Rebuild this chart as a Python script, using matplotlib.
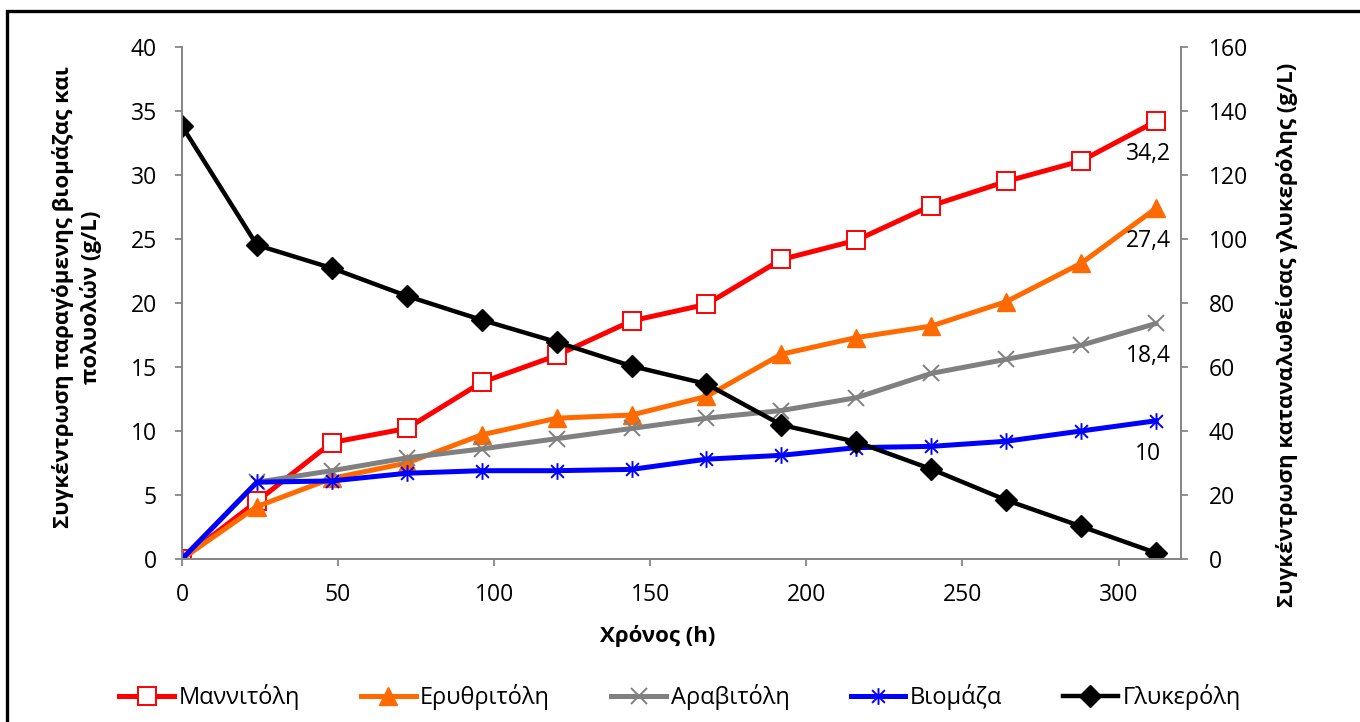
import matplotlib
matplotlib.use("Agg")
import matplotlib.pyplot as plt
from matplotlib.path import Path
from matplotlib.patches import Rectangle

plt.rcParams['font.family'] = ['Open Sans', 'DejaVu Sans']

# sampling times (h)
hours = [0, 24, 48, 72, 96, 120, 144, 168, 192, 216, 240, 264, 288, 312]

# left axis: products (g/L)
mannitol = [0, 4.5, 9.1, 10.2, 13.8, 15.9, 18.6, 19.9, 23.4, 24.9, 27.6, 29.5, 31.1, 34.2]
erythritol = [0, 4.1, 6.3, 7.5, 9.7, 11.0, 11.25, 12.7, 16.0, 17.3, 18.2, 20.1, 23.1, 27.4]
arabitol = [0, 6.0, 6.9, 7.9, 8.6, 9.4, 10.2, 11.0, 11.6, 12.6, 14.5, 15.6, 16.7, 18.4]
biomass = [0, 6.0, 6.1, 6.7, 6.9, 6.9, 7.0, 7.8, 8.1, 8.7, 8.8, 9.2, 10.0, 10.8]

# right axis: glycerol consumed (g/L)
glycerol = [135.3, 98.1, 90.9, 82.2, 74.7, 67.8, 60.3, 54.7, 41.9, 36.6, 28.1, 18.4, 10.2, 1.9]

names = ['Μαννιτόλη', 'Ερυθριτόλη', 'Αραβιτόλη', 'Βιομάζα', 'Γλυκερόλη']
end_labels = ['34,2', '27,4', '18,4', '10']

# excel style star marker: x with a vertical bar
star = Path([(-1, -1), (1, 1), (-1, 1), (1, -1), (0, -1.3), (0, 1.3)],
            [Path.MOVETO, Path.LINETO, Path.MOVETO, Path.LINETO, Path.MOVETO, Path.LINETO])

fig = plt.figure(figsize=(13.6, 7.22), dpi=100)
ax = fig.add_axes([182/1360, 1-559/722, (1181-182)/1360, (559-47)/722])
ax2 = ax.twinx()

ax.plot(hours, mannitol, color='#ff0000', lw=3.6, marker='s', ms=13, mfc='white',
        mec='#ff0000', mew=1.4, label=names[0])
ax.plot(hours, erythritol, color='#ff6a00', lw=3.6, marker='^', ms=13,
        mfc='#ff6a00', mec='#ff6a00', label=names[1])
ax.plot(hours, arabitol, color='#808080', lw=3.6, marker='x', ms=12, mew=1.4,
        mec='#808080', label=names[2])
ax.plot(hours, biomass, color='#0000ff', lw=3.6, marker=star, ms=12, mew=1.4,
        mec='#0000ff', label=names[3])
ax2.plot(hours, glycerol, color='black', lw=3.2, marker='D', ms=11, label=names[4])

for series, lab in zip([mannitol, erythritol, arabitol, biomass], end_labels):
    ax.annotate(lab, (hours[-1], series[-1]), xytext=(-8, -33), textcoords='offset pixels',
                ha='center', va='center', fontsize=16.5)

ax.set_xlim(0, 320)
ax.set_ylim(0, 40)
ax2.set_ylim(0, 160)
ax.set_xticks(range(0, 301, 50))
ax.set_yticks(range(0, 41, 5))
ax2.set_yticks(range(0, 161, 20))

gray = '#868686'
for a in (ax, ax2):
    a.spines['top'].set_visible(False)
    for s in ('left', 'right', 'bottom'):
        a.spines[s].set_color(gray)
        a.spines[s].set_linewidth(1.3)
    a.tick_params(colors=gray, labelcolor='black', labelsize=16.5, length=5, width=1.3)
ax.tick_params(axis='x', pad=12)
ax.tick_params(axis='y', pad=13)
ax2.tick_params(axis='y', pad=15)

fig.text(658/1360, 1-636/722, 'Χρόνος (h)', ha='center', va='center',
         fontsize=16, fontweight='bold')
fig.text(77/1360, 1-297/722, 'Συγκέντρωση παραγόμενης βιομάζας και\nπολυολών (g/L)',
         rotation=90, ha='center', va='center', fontsize=16, fontweight='bold',
         multialignment='center', linespacing=1.35)
fig.text(1287/1360, 1-335/722, 'Συγκέντρωση καταναλωθείσας γλυκερόλης (g/L)',
         rotation=90, ha='center', va='center', fontsize=16, fontweight='bold')

h1, l1 = ax.get_legend_handles_labels()
h2, l2 = ax2.get_legend_handles_labels()
fig.legend(h1 + h2, l1 + l2, loc='center', bbox_to_anchor=(680/1360, 1-697/722),
           ncol=5, frameon=False, fontsize=17, handlelength=2.3, columnspacing=2.6,
           handletextpad=0.2, borderpad=0, borderaxespad=0)

# outer chart border
fig.patches.append(Rectangle((7/1360, -0.05), 1.1, 1-11/722+0.05, transform=fig.transFigure,
                             fill=False, ec='black', lw=2.4))

fig.savefig('out.png', dpi=100)
